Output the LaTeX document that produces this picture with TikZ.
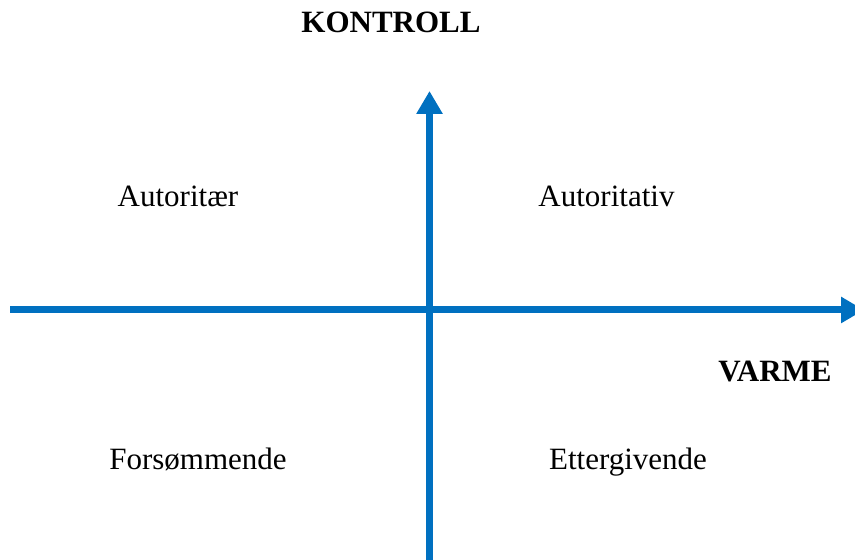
\documentclass[tikz,border=0pt]{standalone}
\usepackage{fontspec}
\setmainfont{Liberation Serif}
\usepackage{xcolor}
\definecolor{officeblue}{RGB}{0,112,192}
\usetikzlibrary{arrows.meta}

\begin{document}
\begin{tikzpicture}[x=0.5pt, y=0.5pt,
	axis/.style = {line width=3.5pt, officeblue, -{Triangle[width=12.5pt, length=11.5pt]}},
	quadrant/.style = {inner sep=0pt, anchor=base, font=\fontsize{15.5}{18}\selectfont},
	axislabel/.style = {inner sep=0pt, anchor=base, font=\fontsize{15.5}{18}\selectfont\bfseries}]
	\useasboundingbox (0,0) rectangle (855,560);
	\clip (0,0) rectangle (855,560);
	
	\coordinate (west) at (10,250);
	\coordinate (east) at (864,250);
	\coordinate (south) at (429.5,0);
	\coordinate (north) at (429.5,469);
	
	\draw[axis] (west) -- (east);
	
	\draw[axis] (south) -- (north);
	
	\node[axislabel] (kontroll) at (391,527) {KONTROLL};
	
	\node[axislabel] (varme) at (775,178) {VARME};
	
	\node[quadrant] (autoritaer) at (178,353) {Autoritær};
	
	\node[quadrant] (autoritativ) at (606.5,353) {Autoritativ};
	
	\node[quadrant] (forsommende) at (198,90) {Forsømmende};
	
	\node[quadrant] (ettergivende) at (628,90) {Ettergivende};
\end{tikzpicture}
\end{document}
